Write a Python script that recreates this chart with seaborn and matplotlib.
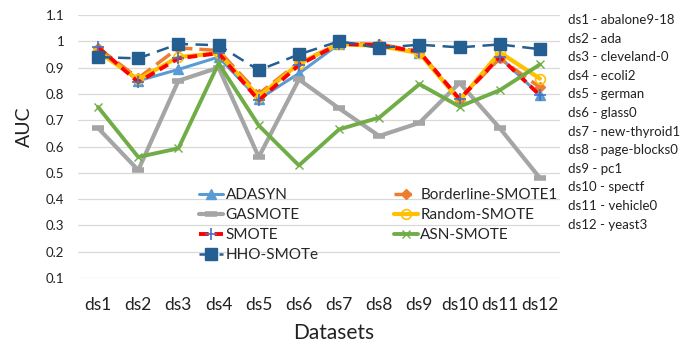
import pandas as pd
import seaborn as sns
from matplotlib import pylab as plt

datasets = ["ds1", "ds2", "ds3", "ds4", "ds5", "ds6", "ds7", "ds8", "ds9", "ds10", "ds11", "ds12"]
dataset_names = ["abalone9-18", "ada", "cleveland-0", "ecoli2", "german", "glass0",
                 "new-thyroid1", "page-blocks0", "pc1", "spectf", "vehicle0", "yeast3"]

adasyn = [0.970, 0.850, 0.893, 0.940, 0.780, 0.878, 0.990, 0.985, 0.955, 0.780, 0.940, 0.795]
borderline = [0.975, 0.860, 0.975, 0.965, 0.800, 0.920, 0.990, 0.990, 0.960, 0.780, 0.935, 0.825]
gasmote = [0.670, 0.510, 0.850, 0.900, 0.560, 0.855, 0.745, 0.640, 0.690, 0.842, 0.670, 0.480]
random_smote = [0.960, 0.855, 0.940, 0.955, 0.790, 0.915, 0.990, 0.982, 0.955, 0.775, 0.958, 0.858]
smote = [0.977, 0.845, 0.935, 0.955, 0.775, 0.910, 0.990, 0.985, 0.960, 0.780, 0.940, 0.795]
asn_smote = [0.750, 0.560, 0.593, 0.916, 0.680, 0.528, 0.665, 0.710, 0.837, 0.752, 0.814, 0.912]
hho_smote = [0.940, 0.935, 0.990, 0.985, 0.890, 0.950, 1.000, 0.975, 0.987, 0.977, 0.988, 0.970]

series = {
    "ADASYN": adasyn,
    "Borderline-SMOTE1": borderline,
    "GASMOTE": gasmote,
    "Random-SMOTE": random_smote,
    "SMOTE": smote,
    "ASN-SMOTE": asn_smote,
    "HHO-SMOTe": hho_smote,
}

# line style per method (Excel-like look)
styles = {
    "ADASYN": dict(color="#5B9BD5", lw=2.2, ls="-", marker="^", ms=7, mfc="#5B9BD5", mec="#5B9BD5"),
    "Borderline-SMOTE1": dict(color="#ED7D31", lw=2.5, ls=(0, (5, 2)), marker="D", ms=5, mfc="#ED7D31", mec="#ED7D31"),
    "GASMOTE": dict(color="#A5A5A5", lw=3, ls="-", marker="_", ms=9, mew=4, mec="#A5A5A5"),
    "Random-SMOTE": dict(color="#FFC000", lw=3, ls="-", marker="o", ms=7, mfc="none", mec="#FFC000", mew=1.2),
    "SMOTE": dict(color="#FF0000", lw=2.8, ls=(0, (2.5, 1.5)), marker="+", ms=8, mec="#4472C4", mew=1.2),
    "ASN-SMOTE": dict(color="#70AD47", lw=2.8, ls="-", marker="x", ms=6, mec="#70AD47", mew=1),
    "HHO-SMOTe": dict(color="#255E91", lw=1.8, ls=(0, (5, 3)), marker="s", ms=8, mfc="#255E91", mec="#255E91"),
}

df = pd.DataFrame({"dataset": datasets, **series})
long_df = df.melt(id_vars="dataset", var_name="method", value_name="auc")

sns.set_style("white")
plt.rcParams["font.family"] = ["Lato", "DejaVu Sans"]

fig = plt.figure(figsize=(6.98, 3.45), dpi=100)
ax = fig.add_axes([78 / 698, 1 - 278 / 345, (560 - 78) / 698, (278 - 15) / 345])

for method in series:
    st = styles[method]
    sub = long_df[long_df["method"] == method]
    sns.lineplot(data=sub, x="dataset", y="auc", ax=ax, sort=False, label=method,
                 color=st["color"], linewidth=st["lw"], linestyle=st["ls"], marker=st["marker"],
                 markersize=st["ms"], markerfacecolor=st.get("mfc", st["color"]),
                 markeredgecolor=st["mec"], markeredgewidth=st.get("mew", 1))

ax.set_xlim(-0.5, len(datasets) - 0.5)
ax.set_ylim(0.1, 1.1)
ax.set_yticks([0.1, 0.2, 0.3, 0.4, 0.5, 0.6, 0.7, 0.8, 0.9, 1.0, 1.1])
ax.set_yticklabels(["0.1", "0.2", "0.3", "0.4", "0.5", "0.6", "0.7", "0.8", "0.9", "1", "1.1"])
ax.grid(axis="y", color="#D9D9D9", lw=0.9)
ax.set_axisbelow(True)
for sp in ax.spines.values():
    sp.set_visible(False)
ax.tick_params(axis="x", length=0, pad=14, labelsize=12.5, colors="#222222")
ax.tick_params(axis="y", length=0, pad=10, labelsize=9.5, colors="#222222")
ax.set_xlabel("")
ax.set_ylabel("")

fig.text(24 / 698, 1 - 127 / 345, "AUC", rotation=90, ha="center", va="center", fontsize=14, color="#222222")
fig.text(334 / 698, 1 - 333 / 345, "Datasets", ha="center", va="center", fontsize=15, color="#222222")

# legend: Excel fills row by row, matplotlib column by column
handles, labels = ax.get_legend_handles_labels()
order = [0, 2, 4, 6, 1, 3, 5]
ax.legend([handles[i] for i in order], [labels[i] for i in order], ncol=2, frameon=False,
          loc="upper left", bbox_to_anchor=(199 / 698, 1 - 188 / 345), bbox_transform=fig.transFigure,
          fontsize=11, handlelength=1.6, handletextpad=0.15, columnspacing=4.9, labelspacing=0.4,
          borderpad=0, borderaxespad=0)

for i, (ds, name) in enumerate(zip(datasets, dataset_names)):
    fig.text(568 / 698, 1 - (20 + i * 18.6) / 345, "{} - {}".format(ds, name), ha="left", va="center",
             fontsize=9.5, color="#222222")

plt.savefig("out.png", dpi=100)
